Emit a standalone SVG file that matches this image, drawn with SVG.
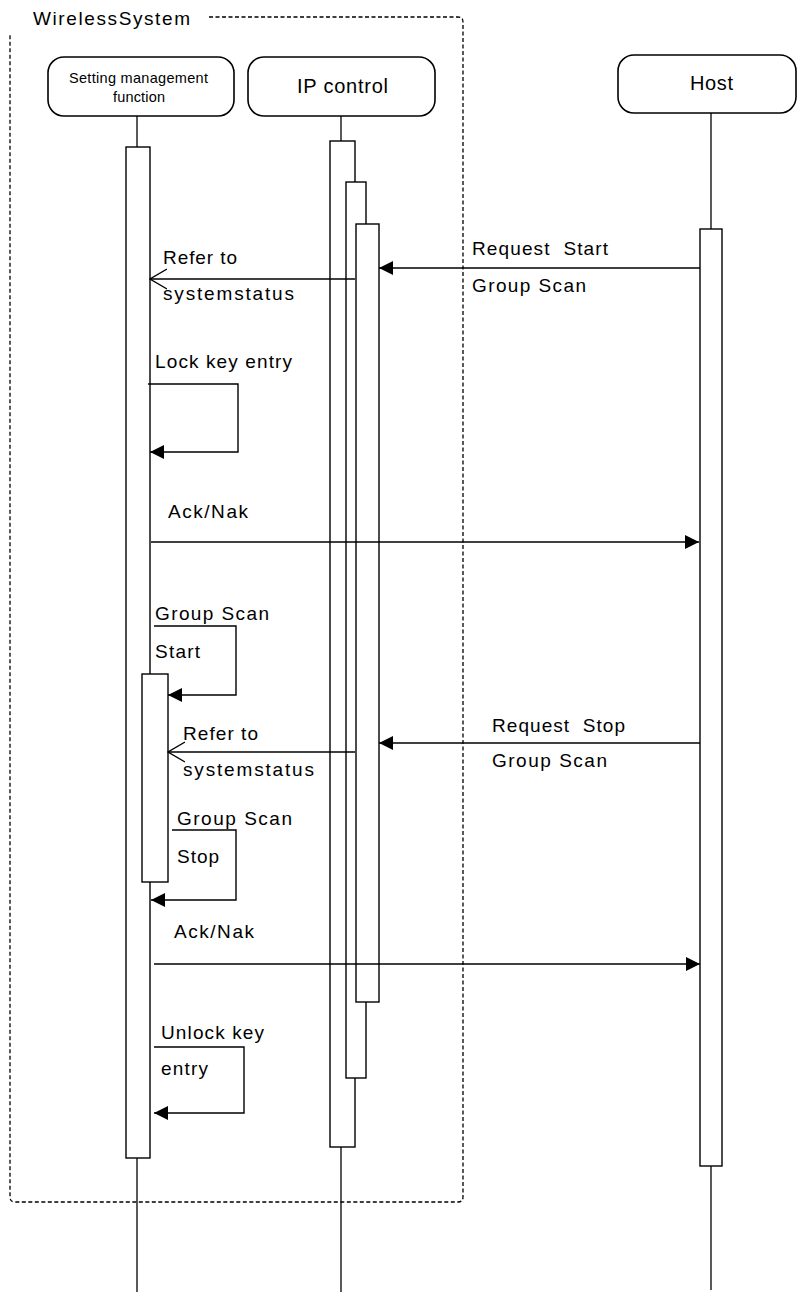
<svg xmlns="http://www.w3.org/2000/svg" width="797" height="1292" viewBox="0 0 797 1292">
<defs>
<style>
text{font-family:"Liberation Sans",Arial,sans-serif;fill:#000}
.lbl{font-size:19px}
.pre{white-space:pre}
.head{fill:#fff;stroke:#000;stroke-width:1.6}
.act{fill:#fff;stroke:#000;stroke-width:1.4}
.life{stroke:#000;stroke-width:1.3;fill:none}
.msg{stroke:#000;stroke-width:1.4;fill:none}
.frame{fill:none;stroke:#000;stroke-width:1.3;stroke-dasharray:4 2.5}
</style>
<marker id="filled" viewBox="0 0 14 14" refX="14" refY="7" markerWidth="14" markerHeight="14" markerUnits="userSpaceOnUse" orient="auto">
<path d="M0,0 L14,7 L0,14 Z" fill="#000"/>
</marker>
<marker id="open" viewBox="0 0 18 22" refX="17" refY="11" markerWidth="18" markerHeight="22" markerUnits="userSpaceOnUse" orient="auto">
<path d="M0,1 L17,11 L0,21" fill="none" stroke="#000" stroke-width="1.4"/>
</marker>
</defs>
<rect width="797" height="1292" fill="#fff"/>

<g id="frame">
<path class="frame" d="M209,17 H458 Q463,17 463,22 V1197 Q463,1202 458,1202 H15 Q10,1202 10,1197 V34"/>
<text class="lbl" x="33" y="25" textLength="157" lengthAdjust="spacing">WirelessSystem</text>
</g>

<g id="lifeline-setting">
<rect class="head" x="48" y="57" width="186" height="59" rx="16"/>
<text x="138.5" y="83" font-size="14.5" text-anchor="middle" textLength="139" lengthAdjust="spacing">Setting management</text>
<text x="139" y="102" font-size="14.5" text-anchor="middle" textLength="52" lengthAdjust="spacing">function</text>
<line class="life" x1="137" y1="116" x2="137" y2="147"/>
<line class="life" x1="137" y1="1158" x2="137" y2="1292"/>
<rect class="act" x="126" y="147" width="24" height="1011"/>
<rect class="act" x="142" y="674" width="26" height="208"/>
</g>

<g id="lifeline-ip">
<rect class="head" x="248" y="57" width="187" height="59" rx="16"/>
<text x="342.5" y="93" font-size="20" text-anchor="middle" textLength="91" lengthAdjust="spacing">IP control</text>
<line class="life" x1="341" y1="116" x2="341" y2="141"/>
<line class="life" x1="341" y1="1147" x2="341" y2="1292"/>
<rect class="act" x="330" y="141" width="25" height="1006"/>
<rect class="act" x="346" y="182" width="20" height="896"/>
<rect class="act" x="356" y="224" width="23" height="778"/>
</g>

<g id="lifeline-host">
<rect class="head" x="618" y="55" width="178" height="58" rx="16"/>
<text x="711.5" y="90" font-size="20" text-anchor="middle" textLength="43" lengthAdjust="spacing">Host</text>
<line class="life" x1="711" y1="113" x2="711" y2="229"/>
<line class="life" x1="711" y1="1166" x2="711" y2="1290"/>
<rect class="act" x="700" y="229" width="22" height="937"/>
</g>

<g id="connectors">
<line class="msg" x1="700" y1="268" x2="379" y2="268" marker-end="url(#filled)"/>
<line class="msg" x1="355" y1="279" x2="150" y2="279" marker-end="url(#open)"/>
<polyline class="msg" points="148,384 238,384 238,452 150,452" marker-end="url(#filled)"/>
<line class="msg" x1="151" y1="542" x2="699" y2="542" marker-end="url(#filled)"/>
<polyline class="msg" points="154,626 236,626 236,695 168,695" marker-end="url(#filled)"/>
<line class="msg" x1="700" y1="743" x2="379" y2="743" marker-end="url(#filled)"/>
<line class="msg" x1="355" y1="752" x2="168" y2="752" marker-end="url(#open)"/>
<polyline class="msg" points="172,830 236,830 236,900 151,900" marker-end="url(#filled)"/>
<line class="msg" x1="154" y1="964" x2="700" y2="964" marker-end="url(#filled)"/>
<polyline class="msg" points="154,1047 244,1047 244,1113 154,1113" marker-end="url(#filled)"/>
</g>

<g id="labels">
<text class="lbl pre" xml:space="preserve" x="472" y="255" textLength="136" lengthAdjust="spacing">Request  Start</text>
<text class="lbl" x="472" y="292" textLength="114" lengthAdjust="spacing">Group Scan</text>
<text class="lbl" x="163" y="264" textLength="74" lengthAdjust="spacing">Refer to</text>
<text class="lbl" x="163" y="300" textLength="131" lengthAdjust="spacing">systemstatus</text>
<text class="lbl" x="155" y="368" textLength="137" lengthAdjust="spacing">Lock key entry</text>
<text class="lbl" x="168" y="518" textLength="80" lengthAdjust="spacing">Ack/Nak</text>
<text class="lbl" x="155" y="620" textLength="114" lengthAdjust="spacing">Group Scan</text>
<text class="lbl" x="155" y="658" textLength="45" lengthAdjust="spacing">Start</text>
<text class="lbl pre" xml:space="preserve" x="492" y="732" textLength="133" lengthAdjust="spacing">Request  Stop</text>
<text class="lbl" x="492" y="767" textLength="115" lengthAdjust="spacing">Group Scan</text>
<text class="lbl" x="183" y="740" textLength="75" lengthAdjust="spacing">Refer to</text>
<text class="lbl" x="183" y="776" textLength="131" lengthAdjust="spacing">systemstatus</text>
<text class="lbl" x="177" y="825" textLength="115" lengthAdjust="spacing">Group Scan</text>
<text class="lbl" x="177" y="863" textLength="42" lengthAdjust="spacing">Stop</text>
<text class="lbl" x="174" y="938" textLength="80" lengthAdjust="spacing">Ack/Nak</text>
<text class="lbl" x="161" y="1039" textLength="103" lengthAdjust="spacing">Unlock key</text>
<text class="lbl" x="161" y="1075" textLength="47" lengthAdjust="spacing">entry</text>
</g>
</svg>
